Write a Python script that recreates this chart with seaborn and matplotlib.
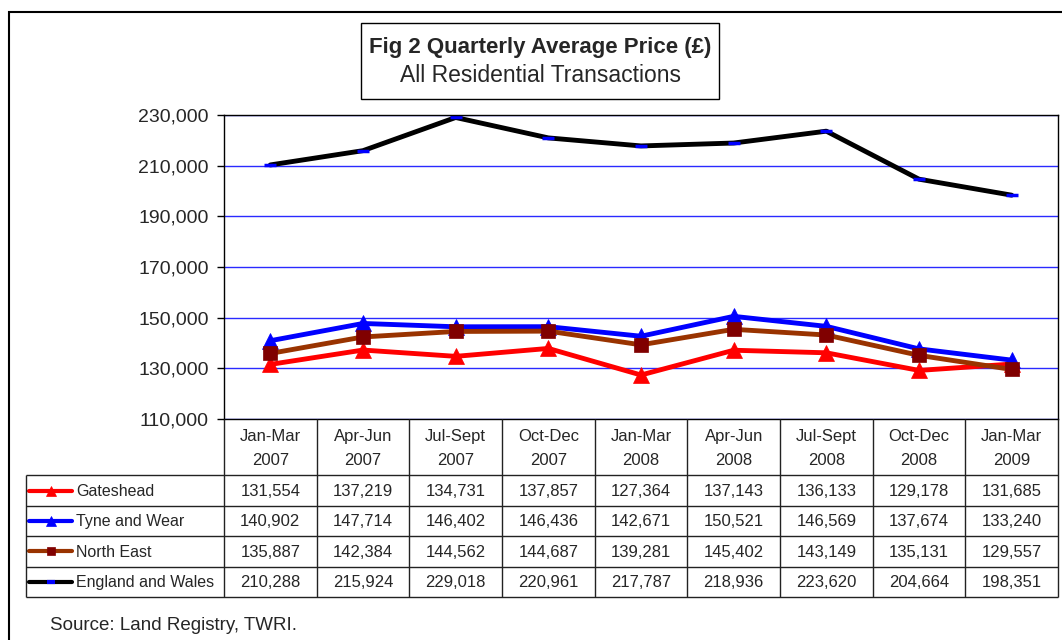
import matplotlib
matplotlib.use("Agg")
import matplotlib.patches as mpatches
import matplotlib.pyplot as plt
import numpy as np
import pandas as pd
import seaborn as sns
from matplotlib.ticker import FuncFormatter

# Chart data
quarters = ["Jan-Mar\n2007", "Apr-Jun\n2007", "Jul-Sept\n2007", "Oct-Dec\n2007",
            "Jan-Mar\n2008", "Apr-Jun\n2008", "Jul-Sept\n2008", "Oct-Dec\n2008",
            "Jan-Mar\n2009"]
gateshead = [131554, 137219, 134731, 137857, 127364, 137143, 136133, 129178, 131685]
tyne_wear = [140902, 147714, 146402, 146436, 142671, 150521, 146569, 137674, 133240]
north_east = [135887, 142384, 144562, 144687, 139281, 145402, 143149, 135131, 129557]
england_wales = [210288, 215924, 229018, 220961, 217787, 218936, 223620, 204664, 198351]
series_names = ["Gateshead", "Tyne and Wear", "North East", "England and Wales"]
y_ticks = [110000, 130000, 150000, 170000, 190000, 210000, 230000]

series_values = [gateshead, tyne_wear, north_east, england_wales]
df = pd.DataFrame({
    "pos": np.tile(np.arange(len(quarters)), len(series_names)),
    "price": np.concatenate(series_values),
    "series": np.repeat(series_names, len(quarters)),
})

styles = {
    "Gateshead": dict(color="#ff0000", marker="^", markersize=11,
                      markerfacecolor="#ff0000", markeredgecolor="#ff0000", markeredgewidth=0.5),
    "Tyne and Wear": dict(color="#0000ff", marker="^", markersize=11,
                          markerfacecolor="#0000ff", markeredgecolor="#0000ff", markeredgewidth=0.5),
    "North East": dict(color="#993300", marker="s", markersize=10,
                       markerfacecolor="#800000", markeredgecolor="#800000", markeredgewidth=0.5),
    "England and Wales": dict(color="#000000", marker="_", markersize=9,
                              markerfacecolor="#0000ff", markeredgecolor="#0000ff", markeredgewidth=2.5),
}

sns.set_style("white")
plt.rcParams["font.family"] = ["Liberation Sans", "DejaVu Sans"]

W, H = 1062, 640
fig = plt.figure(figsize=(W / 100, H / 100), dpi=100)

# plot area in pixel terms
px_left, px_right, px_top, px_bottom = 224, 1058, 115, 419
ax = fig.add_axes([px_left / W, (H - px_bottom) / H,
                   (px_right - px_left) / W, (px_bottom - px_top) / H])

for name in series_names:
    sns.lineplot(data=df[df["series"] == name], x="pos", y="price", ax=ax,
                 linewidth=3.5, legend=False, errorbar=None, sort=False, **styles[name])

ax.set_xlim(-0.5, len(quarters) - 0.5)
ax.set_ylim(y_ticks[0], y_ticks[-1])
ax.set_yticks(y_ticks)
ax.yaxis.set_major_formatter(FuncFormatter(lambda v, p: f"{v:,.0f}"))
ax.set_xticks([])
ax.set_xlabel("")
ax.set_ylabel("")
ax.yaxis.grid(True, color="#2a2aff", linewidth=1)
ax.set_axisbelow(True)
ax.tick_params(axis="y", left=True, direction="out", length=5, width=1,
               color="black", labelsize=14, pad=6)
for sp in ax.spines.values():
    sp.set_color("black")
    sp.set_linewidth(1)

# data table below the plot
unit_px = (px_right - px_left) / len(quarters)
table_left_px = 26
x_left = -0.5 - (px_left - table_left_px) / unit_px
header_h = 1.85
total_h = header_h + len(series_names)
tbl = fig.add_axes([table_left_px / W, (H - 597) / H,
                    (px_right - table_left_px) / W, (597 - px_bottom) / H])
tbl.axis("off")
tbl.set_xlim(x_left, len(quarters) - 0.5)
tbl.set_ylim(total_h, 0)

for i, q in enumerate(quarters):
    tbl.text(i, header_h / 2 + 0.05, q, ha="center", va="center", fontsize=12, linespacing=1.75)

for r, (name, vals) in enumerate(zip(series_names, series_values)):
    y = header_h + r + 0.5
    for i, v in enumerate(vals):
        tbl.text(i, y + 0.03, f"{v:,}", ha="center", va="center", fontsize=12)
    st = styles[name]
    x0 = x_left + 3 / unit_px
    x1 = x_left + 46 / unit_px
    small = dict(st)
    small["markersize"] = st["markersize"] * 0.6
    if name == "England and Wales":
        small["markersize"] = 6
        small["markeredgewidth"] = 3
    tbl.plot([x0, (x0 + x1) / 2, x1], [y, y, y], linewidth=3,
             markevery=[1], clip_on=False, solid_capstyle="round", **small)
    tbl.text(x_left + 50 / unit_px, y + 0.03, name, ha="left", va="center", fontsize=11.5)

line_kw = dict(color="#222222", linewidth=1, clip_on=False)
tbl.hlines(header_h + np.arange(len(series_names) + 1), x_left, len(quarters) - 0.5, **line_kw)
tbl.vlines(np.arange(len(quarters) + 1) - 0.5, 0, total_h, **line_kw)
tbl.vlines(x_left, header_h, total_h, **line_kw)

# title box
fig.add_artist(mpatches.Rectangle((361 / W, (H - 99) / H), 358 / W, 76 / H,
                                  transform=fig.transFigure, fill=False,
                                  edgecolor="black", linewidth=1))
fig.text(540 / W, (H - 47) / H, "Fig 2 Quarterly Average Price (£)",
         ha="center", va="center", fontsize=16, fontweight="bold")
fig.text(540 / W, (H - 75) / H, "All Residential Transactions",
         ha="center", va="center", fontsize=16.5)

# outer frame
fig.add_artist(mpatches.Rectangle((9 / W, -0.1), 1.2, (H - 12) / H + 0.1,
                                  transform=fig.transFigure, fill=False,
                                  edgecolor="black", linewidth=1.5))

fig.text(50 / W, (H - 625) / H, "Source: Land Registry, TWRI.",
         ha="left", va="center", fontsize=13.5)

fig.savefig("out.png", dpi=100)
plt.close(fig)
